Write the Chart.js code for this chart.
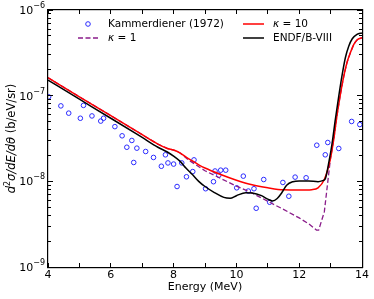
<!DOCTYPE html>
<html lang="en">
<head>
<meta charset="UTF-8">
<script src="https://cdn.jsdelivr.net/npm/chart.js"></script>
<title>Kammerdiener spectrum</title>
<style>
    html, body { margin: 0; padding: 0; background: #fff; }
    #wrap { width: 374px; height: 299px; }
</style>
</head>
<body>
<div id="wrap"><canvas id="grafico"></canvas></div>

<script>
// Kammerdiener (1972) measured points
const kamE = [4.02, 4.41, 4.66, 5.03, 5.13, 5.40, 5.68, 5.77, 6.13, 6.36, 6.51, 6.67, 6.73, 6.83,
    7.11, 7.36, 7.61, 7.74, 7.82, 8.00, 8.11, 8.26, 8.41, 8.61, 8.65, 9.02, 9.27, 9.32, 9.44,
    9.50, 9.66, 10.01, 10.22, 10.38, 10.56, 10.63, 10.87, 11.06, 11.48, 11.67, 11.87, 12.22,
    12.56, 12.83, 12.91, 13.26, 13.67, 13.93];
const kamY = [9.7e-8, 7.6e-8, 6.25e-8, 5.45e-8, 7.7e-8, 5.8e-8, 5.05e-8, 5.45e-8, 4.35e-8, 3.4e-8,
    2.5e-8, 3.0e-8, 1.66e-8, 2.44e-8, 2.23e-8, 1.9e-8, 1.5e-8, 2.04e-8, 1.64e-8, 1.59e-8, 8.7e-9,
    1.64e-8, 1.13e-8, 1.3e-8, 1.78e-8, 8.2e-9, 9.9e-9, 1.32e-8, 1.18e-8, 1.35e-8, 1.35e-8, 8.4e-9,
    1.15e-8, 7.7e-9, 8.2e-9, 4.85e-9, 1.05e-8, 5.7e-9, 9.7e-9, 6.7e-9, 1.12e-8, 1.1e-8,
    2.64e-8, 2.04e-8, 2.84e-8, 2.42e-8, 5.0e-8, 4.6e-8];

// kappa = 10
const k10E = [4, 5, 6, 7, 7.5, 7.8, 8.0, 8.2, 8.4, 8.6, 8.8, 9.0, 9.5, 10, 10.5, 11, 11.5, 12, 12.4,
    12.6, 12.8, 12.99, 13.1, 13.2, 13.31, 13.42, 13.52, 13.63, 13.74, 13.84, 14];
const k10Y = [1.62e-7, 9.7e-8, 5.85e-8, 3.5e-8, 2.72e-8, 2.42e-8, 2.32e-8, 2.15e-8, 1.92e-8, 1.73e-8,
    1.56e-8, 1.43e-8, 1.2e-8, 1.03e-8, 9.1e-9, 8.4e-9, 7.95e-9, 7.9e-9, 8.0e-9,
    8.4e-9, 1.05e-8, 1.8e-8, 3.08e-8, 5.77e-8, 1.03e-7, 1.69e-7, 2.42e-7, 3.17e-7, 3.97e-7, 4.46e-7, 4.75e-7];

// kappa = 1
const k1E = [4, 5, 6, 7, 7.5, 7.8, 8.0, 8.2, 8.5, 9.0, 9.5, 10, 10.5, 11, 11.5, 12, 12.3, 12.55,
    12.62, 12.8, 13.0, 13.1, 13.2, 13.31, 13.42, 13.52, 13.63, 13.74, 13.84, 14];
const k1Y = [1.62e-7, 9.7e-8, 5.85e-8, 3.5e-8, 2.72e-8, 2.42e-8, 2.32e-8, 2.15e-8, 1.75e-8, 1.33e-8,
    1.08e-8, 8.8e-9, 7.3e-9, 5.85e-9, 4.7e-9, 3.74e-9, 3.2e-9, 2.7e-9,
    2.7e-9, 4.4e-9, 1.9e-8, 3.08e-8, 5.77e-8, 1.03e-7, 1.69e-7, 2.42e-7, 3.17e-7, 3.97e-7, 4.46e-7, 4.75e-7];

// ENDF/B-VIII
const endfE = [4, 5, 6, 7, 7.5, 7.8, 8.0, 8.2, 8.4, 8.6, 8.8, 9.0, 9.3, 9.6, 9.8, 10.0, 10.3, 10.5,
    10.8, 11.0, 11.15, 11.3, 11.45, 11.6, 11.8, 12.0, 12.3, 12.6, 12.75, 12.83, 12.94, 13.05,
    13.15, 13.26, 13.37, 13.47, 13.58, 13.69, 13.84, 14];
const endfY = [1.52e-7, 9.1e-8, 5.45e-8, 3.25e-8, 2.5e-8, 2.2e-8, 1.97e-8, 1.72e-8, 1.42e-8, 1.2e-8,
    1.0e-8, 8.7e-9, 7.4e-9, 6.5e-9, 6.35e-9, 6.8e-9, 7.35e-9, 7.3e-9,
    6.8e-9, 6.2e-9, 5.9e-9, 6.3e-9, 7.4e-9, 9.0e-9, 9.9e-9, 1.01e-8, 1.01e-8, 9.9e-9, 1.02e-8, 1.07e-8,
    1.64e-8, 2.82e-8, 5.27e-8, 9.9e-8, 1.77e-7, 2.77e-7, 3.8e-7, 4.62e-7, 5.2e-7, 5.4e-7];

const xTicks = [4, 6, 8, 10, 12, 14];
const yDecades = [-9, -8, -7, -6];
const yMinor = [2, 3, 4, 5, 6, 7, 8, 9];

const fonte = 'DejaVu Sans';
const corK1 = '#8a1c8a';

function pares(xs, ys) {
    return xs.map((x, i) => ({ x: x, y: ys[i] }));
}

function textoKappa(ctx, resto, x, y) {
    ctx.font = 'italic 10.5px "' + fonte + '"';
    ctx.fillText('\u03BA', x, y);
    const w = ctx.measureText('\u03BA').width;
    ctx.font = '10.5px "' + fonte + '"';
    ctx.fillText(resto, x + w, y);
}

// y title with italic math part, drawn rotated
function tituloY(ctx, cx, cy) {
    const partes = [
        { t: 'd', f: 'italic 11.5px', dy: 0 },
        { t: '2', f: '8px', dy: -4 },
        { t: '\u03C3/dE/d\u03B8', f: 'italic 11.5px', dy: 0 },
        { t: ' (b/eV/sr)', f: '11.5px', dy: 0 }
    ];
    ctx.save();
    ctx.translate(cx, cy);
    ctx.rotate(-Math.PI / 2);
    ctx.textAlign = 'left';
    ctx.textBaseline = 'middle';
    let total = 0;
    partes.forEach(p => {
        ctx.font = p.f + ' "' + fonte + '"';
        p.w = ctx.measureText(p.t).width;
        total += p.w;
    });
    let x = -total / 2;
    partes.forEach(p => {
        ctx.font = p.f + ' "' + fonte + '"';
        ctx.fillText(p.t, x, p.dy);
        x += p.w;
    });
    ctx.restore();
}

// frame, inward ticks, decade labels and legend, like matplotlib
const moldura = {
    id: 'moldura',
    afterDraw(chart) {
        const ctx = chart.ctx;
        const a = chart.chartArea;
        const xs = chart.scales.x;
        const ys = chart.scales.y;
        const l = Math.round(a.left), r = Math.round(a.right);
        const t = Math.round(a.top), b = Math.round(a.bottom);
        ctx.save();
        ctx.fillStyle = '#000';

        // spines
        ctx.fillRect(l - 1, t - 1, r - l + 2, 1.2);
        ctx.fillRect(l - 1, b, r - l + 2, 1.2);
        ctx.fillRect(l - 1, t - 1, 1.2, b - t + 2);
        ctx.fillRect(r, t - 1, 1.2, b - t + 2);

        // x ticks every MeV
        for (let e = 4; e <= 14; e++) {
            const px = Math.floor(xs.getPixelForValue(e));
            ctx.fillRect(px, b - 4, 1, 4);
            ctx.fillRect(px, t, 1, 4);
        }
        // y ticks, majors and log minors
        yDecades.forEach(e => {
            const py = Math.floor(ys.getPixelForValue(Math.pow(10, e)));
            ctx.fillRect(l, py, 5, 1);
            ctx.fillRect(r - 5, py, 5, 1);
            if (e < -6) {
                yMinor.forEach(m => {
                    const pm = Math.floor(ys.getPixelForValue(m * Math.pow(10, e)));
                    ctx.fillRect(l, pm, 3, 1);
                    ctx.fillRect(r - 3, pm, 3, 1);
                });
            }
        });

        // decade labels 10^n
        ctx.textBaseline = 'middle';
        yDecades.forEach(e => {
            const py = ys.getPixelForValue(Math.pow(10, e));
            const expo = '\u2212' + Math.abs(e);
            ctx.font = '8px "' + fonte + '"';
            const we = ctx.measureText(expo).width;
            ctx.textAlign = 'right';
            ctx.fillText(expo, 45, py - 4);
            ctx.font = '11px "' + fonte + '"';
            ctx.fillText('10', 45 - we, py + 1);
        });

        tituloY(ctx, 12, (a.top + a.bottom) / 2);

        // legend
        ctx.textAlign = 'left';
        ctx.textBaseline = 'middle';
        const linha1 = 24, linha2 = 38;

        ctx.strokeStyle = '#2a2aff';
        ctx.lineWidth = 1;
        ctx.beginPath();
        ctx.arc(88, linha1, 2.3, 0, Math.PI * 2);
        ctx.stroke();
        ctx.font = '10.5px "' + fonte + '"';
        ctx.fillText('Kammerdiener (1972)', 108, linha1);

        ctx.strokeStyle = corK1;
        ctx.lineWidth = 1.4;
        ctx.setLineDash([5, 2.5]);
        ctx.beginPath();
        ctx.moveTo(78, linha2);
        ctx.lineTo(98, linha2);
        ctx.stroke();
        ctx.setLineDash([]);
        textoKappa(ctx, ' = 1', 108, linha2);

        ctx.strokeStyle = '#ff0000';
        ctx.lineWidth = 1.5;
        ctx.beginPath();
        ctx.moveTo(243, linha1);
        ctx.lineTo(264, linha1);
        ctx.stroke();
        textoKappa(ctx, ' = 10', 273, linha1);

        ctx.strokeStyle = '#000';
        ctx.beginPath();
        ctx.moveTo(243, linha2);
        ctx.lineTo(264, linha2);
        ctx.stroke();
        ctx.font = '10.5px "' + fonte + '"';
        ctx.fillText('ENDF/B-VIII', 273, linha2);

        ctx.restore();
    }
};

const ctx = document.getElementById('grafico');
const config = {
    type: 'scatter',
    data: {
        datasets: [{
            label: 'ENDF/B-VIII',
            data: pares(endfE, endfY),
            showLine: true,
            borderColor: '#000',
            borderWidth: 1.5,
            pointRadius: 0,
            cubicInterpolationMode: 'monotone',
            order: 0
        }, {
            label: '\u03BA = 10',
            data: pares(k10E, k10Y),
            showLine: true,
            borderColor: '#ff0000',
            borderWidth: 1.5,
            pointRadius: 0,
            cubicInterpolationMode: 'monotone',
            order: 1
        }, {
            label: '\u03BA = 1',
            data: pares(k1E, k1Y),
            showLine: true,
            borderColor: corK1,
            borderWidth: 1.3,
            borderDash: [5, 2.5],
            pointRadius: 0,
            order: 2
        }, {
            label: 'Kammerdiener (1972)',
            data: pares(kamE, kamY),
            showLine: false,
            borderColor: '#2a2aff',
            backgroundColor: 'rgba(0,0,0,0)',
            borderWidth: 1,
            pointRadius: 2.3,
            order: 3
        }]
    },
    options: {
        responsive: true,
        maintainAspectRatio: false,
        animation: false,
        events: [],
        layout: { padding: { top: 10, right: 12, left: 6, bottom: 0 } },
        plugins: {
            legend: { display: false },
            tooltip: { enabled: false }
        },
        scales: {
            x: {
                type: 'linear',
                min: 4,
                max: 14,
                grid: { display: false, drawTicks: false, tickLength: 0 },
                border: { display: false },
                ticks: {
                    stepSize: 1,
                    autoSkip: false,
                    maxRotation: 0,
                    color: '#000',
                    padding: 2,
                    font: { family: fonte, size: 11 },
                    callback: v => xTicks.includes(v) ? String(v) : ''
                },
                title: {
                    display: true,
                    text: 'Energy (MeV)',
                    color: '#000',
                    font: { family: fonte, size: 11 },
                    padding: { top: 0, bottom: 5 }
                },
                afterFit: s => { s.height = 32; }
            },
            y: {
                type: 'logarithmic',
                min: 1e-9,
                max: 1e-6,
                grid: { display: false, drawTicks: false, tickLength: 0 },
                border: { display: false },
                ticks: {
                    autoSkip: false,
                    color: '#000',
                    padding: 3,
                    font: { family: fonte, size: 11 },
                    callback: () => ''
                },
                title: { display: false },
                afterFit: s => { s.width = 42; }
            }
        }
    },
    plugins: [moldura]
};

new Chart(ctx, config);
</script>
</body>
</html>
